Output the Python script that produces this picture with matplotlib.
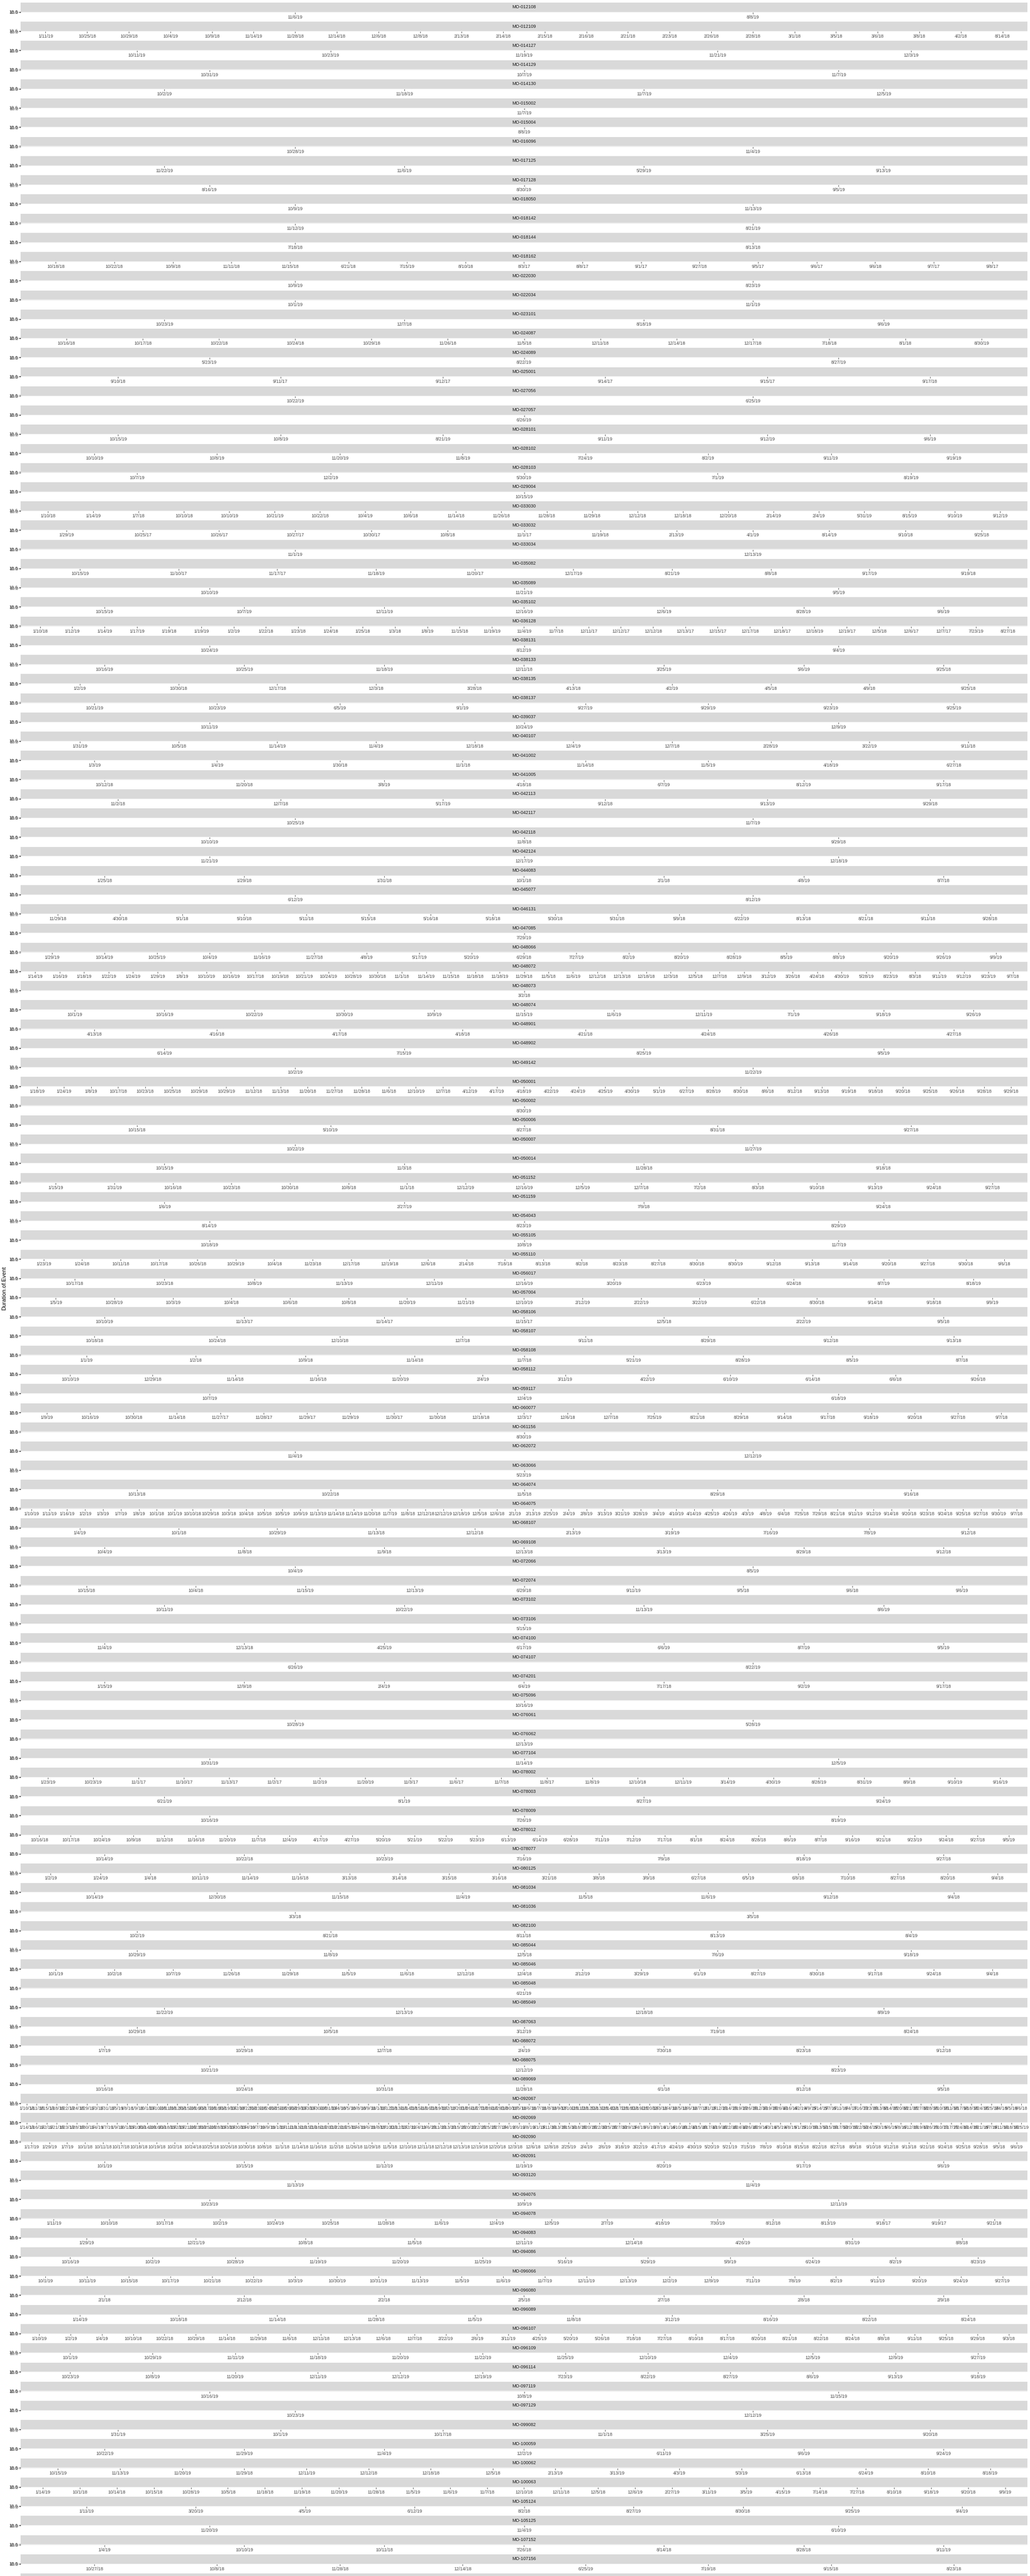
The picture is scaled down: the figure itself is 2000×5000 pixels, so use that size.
import matplotlib
matplotlib.use("Agg")
import matplotlib.pyplot as plt

plt.rcParams['font.family'] = ['Liberation Sans', 'DejaVu Sans']

# facet ids (MO-xxxxxx), one per panel, top to bottom
facet_ids = [
    "012108", "012109", "014127", "014129", "014130", "015002", "015004", "016096",
    "017125", "017128", "018050", "018142", "018144", "018162", "022030", "022034",
    "023101", "024087", "024089", "025001", "027056", "027057", "028101", "028102",
    "028103", "029004", "033030", "033032", "033034", "035082", "035089", "035102",
    "036128", "038131", "038133", "038135", "038137", "039037", "040107", "041002",
    "041005", "042113", "042117", "042118", "042124", "044083", "045077", "046131",
    "047085", "048066", "048072", "048073", "048074", "048901", "048902", "049142",
    "050001", "050002", "050006", "050007", "050014", "051152", "051159", "054043",
    "055105", "055110", "056017", "057004", "058106", "058107", "058108", "058112",
    "059117", "060077", "061156", "062072", "063066", "064074", "064075", "068107",
    "069108", "072066", "072074", "073102", "073106", "074100", "074107", "074201",
    "075096", "076061", "076062", "077104", "078002", "078003", "078009", "078012",
    "078077", "080125", "081034", "081036", "082100", "085044", "085046", "085048",
    "085049", "087063", "088072", "088075", "089069", "092067", "092069", "092090",
    "092091", "093120", "094076", "094078", "094083", "094086", "096066", "096080",
    "096089", "096107", "096109", "096114", "097119", "097129", "099082", "100059",
    "100062", "100063", "105124", "105125", "107152", "107156", "107158",
]

# x categories (event dates) of each panel, same order as facet_ids
event_dates = [
    "11/6/19 8/8/19",
    "1/11/19 10/25/18 10/29/18 10/4/19 10/9/18 11/14/19 11/28/18 12/14/18 12/6/18 12/8/18 2/13/18 2/14/18 2/15/18 2/16/18 2/21/18 2/23/18 2/26/18 2/28/18 3/1/18 3/5/18 3/6/18 3/8/18 4/2/18 8/14/18",
    "10/11/19 10/23/19 11/19/19 11/21/19 12/3/19",
    "10/31/19 10/7/19 11/7/19",
    "10/2/19 11/18/19 11/7/19 12/5/19",
    "11/7/19",
    "8/8/19",
    "10/28/19 11/4/19",
    "11/22/19 11/6/19 5/29/19 9/13/19",
    "8/16/19 8/30/19 9/5/19",
    "10/9/19 11/13/19",
    "11/12/19 8/21/19",
    "7/18/18 8/13/18",
    "10/18/18 10/22/18 10/9/18 11/11/18 11/15/18 6/21/18 7/15/19 8/10/18 8/3/17 8/8/17 9/1/17 9/27/18 9/5/17 9/6/17 9/6/18 9/7/17 9/8/17",
    "10/9/19 8/23/19",
    "10/1/19 11/1/19",
    "10/23/19 12/7/18 8/18/19 9/6/19",
    "10/16/18 10/17/18 10/22/18 10/24/18 10/29/18 11/26/18 11/5/18 12/11/18 12/14/18 12/17/18 7/18/18 8/1/18 8/30/19",
    "5/23/19 8/22/19 8/27/19",
    "9/10/18 9/11/17 9/12/17 9/14/17 9/15/17 9/17/18",
    "10/22/19 6/25/19",
    "6/26/19",
    "10/15/19 10/8/19 8/21/19 9/11/19 9/12/19 9/6/19",
    "10/10/19 10/8/19 11/20/19 11/8/19 7/24/19 8/2/19 9/11/19 9/19/19",
    "10/7/19 12/2/19 5/30/19 7/1/19 8/19/19",
    "10/15/19",
    "1/10/18 1/14/19 1/7/18 10/10/18 10/10/19 10/21/19 10/22/18 10/4/19 10/6/18 11/14/18 11/26/18 11/28/18 11/29/18 12/12/18 12/18/18 12/20/18 2/14/19 2/4/19 5/31/19 8/15/19 9/10/19 9/12/19",
    "1/29/19 10/25/17 10/26/17 10/27/17 10/30/17 10/8/18 11/1/17 11/19/18 2/13/19 4/1/19 8/14/19 9/10/18 9/25/18",
    "11/1/19 12/13/19",
    "10/15/19 11/10/17 11/17/17 11/18/19 11/20/17 12/17/19 8/21/19 8/8/18 9/17/19 9/19/18",
    "10/10/19 11/21/19 9/5/19",
    "10/15/19 10/7/19 12/11/19 12/16/19 12/6/19 8/28/19 9/6/19",
    "1/10/18 1/12/19 1/14/19 1/17/19 1/19/18 1/19/19 1/2/19 1/22/18 1/23/18 1/24/18 1/25/18 1/3/18 1/8/19 11/15/18 11/19/19 11/4/19 11/7/18 12/11/17 12/12/17 12/12/18 12/13/17 12/15/17 12/17/18 12/18/17 12/18/19 12/19/17 12/5/18 12/6/17 12/7/17 7/23/19 8/27/18",
    "10/24/19 8/12/19 9/4/19",
    "10/16/19 10/25/19 11/18/19 12/11/18 3/25/19 5/6/19 9/25/18",
    "1/2/19 10/30/18 12/17/18 12/3/18 3/28/18 4/13/18 4/2/19 4/5/18 4/9/18 9/25/18",
    "10/21/19 10/23/19 6/5/19 9/1/19 9/27/19 9/29/19 9/23/19 9/25/19",
    "10/11/19 10/24/19 12/9/19",
    "1/31/19 10/5/18 11/14/19 11/4/19 12/18/18 12/4/19 12/7/18 2/28/19 3/22/19 9/11/18",
    "1/3/19 1/4/19 1/30/18 11/1/18 11/14/18 11/5/19 4/18/19 6/27/18",
    "10/12/18 11/20/18 3/8/19 4/18/18 6/7/19 8/12/19 9/17/18",
    "11/2/18 12/7/18 5/17/19 9/12/18 9/13/19 9/29/18",
    "10/25/19 11/7/19",
    "10/10/19 11/8/18 9/29/18",
    "11/21/19 12/17/19 12/18/19",
    "1/25/18 1/29/18 1/31/18 10/1/18 2/1/18 4/8/19 8/7/18",
    "6/12/19 8/12/19",
    "11/29/18 4/30/18 5/1/18 5/10/18 5/11/18 5/15/18 5/16/18 5/18/18 5/30/18 5/31/18 5/9/18 6/22/19 8/13/18 8/21/18 9/11/18 9/28/18",
    "7/29/19",
    "1/29/19 10/14/19 10/25/19 10/4/19 11/16/19 11/27/18 4/8/19 5/17/19 5/20/19 6/29/18 7/27/19 8/2/19 8/20/19 8/28/19 8/5/19 8/8/19 9/20/19 9/26/19 9/9/19",
    "1/14/19 1/16/19 1/18/19 1/22/19 1/24/19 1/29/19 1/8/19 10/10/19 10/16/19 10/17/18 10/19/18 10/21/19 10/24/19 10/28/19 10/30/18 11/1/18 11/14/19 11/15/18 11/18/18 11/18/19 11/29/18 11/5/18 11/6/19 12/12/18 12/13/18 12/18/18 12/3/18 12/5/18 12/7/18 12/9/18 3/12/19 3/26/18 4/24/18 4/30/19 5/28/19 8/23/19 8/3/18 9/11/19 9/12/19 9/23/19 9/7/18",
    "3/2/18",
    "10/1/19 10/16/19 10/22/19 10/30/19 10/9/19 11/15/19 11/6/19 12/11/19 7/1/19 9/18/19 9/26/19",
    "4/13/18 4/16/18 4/17/18 4/18/18 4/21/18 4/24/18 4/26/18 4/27/18",
    "6/14/19 7/15/19 8/25/19 9/5/19",
    "10/2/19 11/22/19",
    "1/18/19 1/24/19 1/8/19 10/17/18 10/23/18 10/25/18 10/29/18 10/29/19 11/12/18 11/13/18 11/20/18 11/27/18 11/28/18 11/6/18 12/10/19 12/7/18 4/12/19 4/17/19 4/18/19 4/22/19 4/24/19 4/25/19 4/30/19 5/1/19 6/27/19 8/28/19 8/30/18 8/6/18 8/12/18 9/13/18 9/19/18 9/18/18 9/20/18 9/25/18 9/26/18 9/28/18 9/29/18",
    "8/30/19",
    "10/15/18 5/10/19 8/27/18 8/31/18 9/27/18",
    "10/22/19 11/27/19",
    "10/15/19 11/3/18 11/28/18 9/18/18",
    "1/15/19 1/31/19 10/16/18 10/23/18 10/30/18 10/8/18 11/1/18 12/12/19 12/16/19 12/5/19 12/7/18 7/2/18 8/3/18 9/10/18 9/13/19 9/24/18 9/27/18",
    "1/6/19 2/27/19 7/9/18 9/24/18",
    "8/14/19 8/23/19 8/29/19",
    "10/18/19 10/8/19 11/7/19",
    "1/23/19 1/24/18 10/11/18 10/17/18 10/26/18 10/29/19 10/4/18 11/23/18 12/17/18 12/19/18 12/6/18 2/14/18 7/18/18 8/13/18 8/2/18 8/23/18 8/27/18 8/30/18 8/30/19 9/12/18 9/13/18 9/14/18 9/20/18 9/27/18 9/30/18 9/6/18",
    "10/17/18 10/23/18 10/8/19 11/13/19 12/11/19 12/16/19 3/20/19 6/23/19 6/24/18 8/7/19 8/18/19",
    "1/5/19 10/28/19 10/3/19 10/4/18 10/6/18 10/8/18 11/20/19 11/21/19 12/10/19 2/12/19 2/22/19 3/22/19 6/22/18 8/30/18 9/14/18 9/18/18 9/9/19",
    "10/10/19 11/13/17 11/14/17 11/15/17 12/5/18 2/22/19 9/5/18",
    "10/18/18 10/24/18 12/10/18 12/7/18 9/11/18 8/29/18 9/12/18 9/13/18",
    "1/1/19 1/2/18 10/9/18 11/14/18 11/7/18 5/21/19 8/28/19 8/5/19 8/7/18",
    "10/10/19 12/29/18 11/14/18 11/16/18 11/20/19 2/4/19 3/11/19 4/22/19 6/10/19 6/14/18 6/6/18 9/26/18",
    "10/7/19 12/4/19 6/18/19",
    "1/9/19 10/16/19 10/30/18 11/14/18 11/27/17 11/28/17 11/29/17 11/29/19 11/30/17 11/30/18 12/18/18 12/3/17 12/6/18 12/7/18 7/25/19 8/21/18 8/29/18 9/14/18 9/17/18 9/18/19 9/20/18 9/27/18 9/7/18",
    "8/30/19",
    "11/4/19 12/12/19",
    "5/23/19",
    "10/13/18 10/22/18 11/5/18 8/29/18 9/16/18",
    "1/10/19 1/11/19 1/16/19 1/2/19 1/3/19 1/7/19 1/8/19 10/1/18 10/1/19 10/10/18 10/29/18 10/3/18 10/4/18 10/5/18 10/5/19 10/9/19 11/13/19 11/14/18 11/14/19 11/20/18 11/7/19 11/8/18 12/12/18 12/12/19 12/18/19 12/5/18 12/6/18 2/1/19 2/13/19 2/25/19 2/4/19 2/8/19 3/13/19 3/21/19 3/28/19 3/4/19 4/10/19 4/14/19 4/25/19 4/26/19 4/3/19 4/8/19 6/4/18 7/25/18 7/29/18 8/21/18 9/11/19 9/12/19 9/14/18 9/20/18 9/23/18 9/24/18 9/25/18 9/27/18 9/30/19 9/7/18",
    "1/4/19 10/1/18 10/29/19 11/13/18 12/12/18 2/13/19 3/19/19 7/16/19 7/8/19 9/12/18",
    "10/4/19 11/8/18 11/9/18 12/13/18 3/13/19 8/29/18 9/12/18",
    "10/4/19 8/5/19",
    "10/15/18 10/4/18 11/15/19 12/13/19 6/29/18 9/11/19 9/5/18 9/6/18 9/6/19",
    "10/11/19 10/22/19 11/13/19 8/6/19",
    "5/15/19",
    "11/4/19 12/13/18 4/25/19 6/17/19 6/6/19 8/7/19 9/5/19",
    "6/26/19 8/22/19",
    "1/15/19 12/9/18 2/4/19 6/4/19 7/17/18 9/2/19 9/17/18",
    "10/16/19",
    "10/28/19 5/28/19",
    "12/13/19",
    "10/31/19 11/14/19 12/5/19",
    "1/23/19 10/23/19 11/1/17 11/10/17 11/13/17 11/2/17 11/2/19 11/20/19 11/3/17 11/6/17 11/7/18 11/8/17 11/8/19 12/10/18 12/11/19 3/14/19 4/30/19 8/28/19 8/31/19 8/9/18 9/10/19 9/16/19",
    "6/21/19 8/1/19 8/27/19 9/24/19",
    "10/16/19 7/26/19 8/19/19",
    "10/16/18 10/17/18 10/24/19 10/9/18 11/12/18 11/16/18 11/20/19 11/7/18 12/4/19 4/17/19 4/27/19 5/20/19 5/21/19 5/22/19 5/23/19 6/13/19 6/14/19 6/28/19 7/11/19 7/12/19 7/17/18 8/1/18 8/24/18 8/28/18 8/6/19 8/7/18 9/16/19 9/21/18 9/23/19 9/24/18 9/27/18 9/5/19",
    "10/14/19 10/22/18 10/23/19 7/16/19 7/9/18 8/18/19 9/27/18",
    "1/2/19 1/24/19 1/4/18 10/11/19 11/14/19 11/16/18 3/13/18 3/14/18 3/15/18 3/16/18 3/21/18 3/8/18 3/9/18 6/27/18 6/5/19 6/8/18 7/10/18 8/27/18 8/20/18 9/4/18",
    "10/14/19 12/30/18 11/15/18 11/4/19 11/5/18 11/6/19 9/12/18 9/4/18",
    "3/3/18 3/5/18",
    "10/2/19 8/21/18 8/11/18 8/13/19 8/4/19",
    "10/29/19 11/8/19 12/5/18 7/6/19 9/18/19",
    "10/1/19 10/2/18 10/7/19 11/26/18 11/29/18 11/5/19 11/6/18 12/12/18 12/4/18 2/12/19 3/29/19 6/1/19 8/27/19 8/30/18 9/17/18 9/24/18 9/4/18",
    "6/21/19",
    "11/22/19 12/13/19 12/18/18 8/9/19",
    "10/29/18 10/5/18 3/12/19 7/19/18 8/24/18",
    "1/7/19 10/29/18 12/7/18 2/4/19 7/30/18 8/23/18 9/12/18",
    "10/21/19 12/12/19 8/23/19",
    "10/16/18 10/24/18 10/31/18 11/28/18 6/1/18 8/12/18 9/5/18",
    "1/10/18 1/11/18 1/15/19 1/18/19 1/22/19 1/24/18 1/29/19 1/3/18 1/31/18 1/5/19 1/8/18 1/9/18 10/1/18 10/10/18 10/11/18 10/12/18 10/15/18 10/16/18 10/17/18 10/18/18 10/19/18 10/2/18 10/22/18 10/23/18 10/24/18 10/25/18 10/26/18 10/29/18 10/3/18 10/30/18 10/31/18 10/4/18 10/5/18 10/8/18 10/9/18 11/1/18 11/12/18 11/13/18 11/14/18 11/15/18 11/16/18 11/19/18 11/2/18 11/20/18 11/26/18 11/27/18 11/28/18 11/29/18 11/30/18 11/5/18 11/6/18 11/7/18 11/8/18 11/9/18 12/10/18 12/11/18 12/12/18 12/13/18 12/14/18 12/17/18 12/18/18 12/19/18 12/20/18 12/3/18 12/4/18 12/5/18 12/6/18 12/7/18 2/1/19 2/12/19 2/14/19 2/19/19 2/26/19 3/12/19 3/19/19 3/26/19 4/16/19 4/2/19 4/9/19 5/14/19 5/7/19 6/11/19 6/4/19 7/16/19 7/23/19 8/13/18 8/14/18 8/20/18 8/21/18 8/27/18 8/28/18 9/10/18 9/11/18 9/17/18 9/18/18 9/24/18 9/25/18 9/4/18 9/5/18 9/6/18",
    "1/14/19 1/16/19 1/2/19 1/21/19 1/23/19 1/28/19 1/30/19 1/4/19 1/7/19 1/9/19 10/1/19 10/10/19 10/14/19 10/16/19 10/18/19 10/2/19 10/21/19 10/23/19 10/25/19 10/28/19 10/3/19 10/30/19 10/4/19 10/7/19 10/9/19 11/1/19 11/11/19 11/13/19 11/15/19 11/18/19 11/20/19 11/22/19 11/25/19 11/4/19 11/6/19 11/8/19 12/10/19 12/12/19 12/2/19 12/4/19 12/6/19 2/11/19 2/13/19 2/15/19 2/20/19 2/22/19 2/25/19 2/27/19 2/4/19 2/6/19 2/8/19 3/1/19 3/11/19 3/13/19 3/15/19 3/18/19 3/20/19 3/22/19 3/25/19 3/27/19 3/29/19 3/4/19 3/6/19 3/8/19 4/1/19 4/10/19 4/12/19 4/15/19 4/17/19 4/19/19 4/22/19 4/24/19 4/26/19 4/29/19 4/3/19 4/5/19 4/8/19 5/1/19 5/10/19 5/13/19 5/15/19 5/17/19 5/20/19 5/22/19 5/24/19 5/3/19 5/6/19 5/8/19 6/12/19 6/19/19 6/26/19 7/10/19 7/17/19 7/24/19 8/14/19 8/21/19 8/7/19 9/11/19 9/18/19 9/25/19",
    "1/17/19 1/29/19 1/7/19 10/1/18 10/11/18 10/17/18 10/18/18 10/19/18 10/2/18 10/24/18 10/25/18 10/26/18 10/30/18 10/8/18 11/1/18 11/14/18 11/16/18 11/2/18 11/26/18 11/29/18 11/5/18 12/10/18 12/11/18 12/12/18 12/13/18 12/19/18 12/20/18 12/3/18 12/6/18 12/8/18 2/25/19 2/4/19 2/6/19 3/18/19 3/22/19 4/17/19 4/24/19 4/30/19 5/20/19 5/21/19 7/15/19 7/8/19 8/10/18 8/15/18 8/22/18 8/27/18 8/9/18 9/10/18 9/12/18 9/13/18 9/21/18 9/24/18 9/25/18 9/28/18 9/5/18 9/6/19",
    "10/1/19 10/15/19 11/12/19 11/19/19 8/20/19 9/17/19 9/6/19",
    "11/13/19 11/4/19",
    "10/23/19 10/9/19 12/11/19",
    "1/11/19 10/10/18 10/17/18 10/2/19 10/24/19 10/25/18 11/28/18 11/6/19 12/4/19 12/5/19 2/7/19 4/18/19 7/30/19 8/12/18 8/13/19 9/18/17 9/19/17 9/21/18",
    "1/29/19 12/21/19 10/8/18 11/5/18 12/11/19 12/14/18 4/26/19 8/31/19 8/8/18",
    "10/16/19 10/2/19 10/28/19 11/19/19 11/20/19 11/25/19 5/16/19 5/29/19 5/9/19 6/24/19 8/2/19 8/23/19",
    "10/1/19 10/11/19 10/15/18 10/17/19 10/21/18 10/22/19 10/3/19 10/30/19 10/31/19 11/13/19 11/5/19 11/6/19 11/7/19 12/11/19 12/13/19 12/2/19 12/9/19 7/11/19 7/8/19 8/2/19 9/11/19 9/20/19 9/24/19 9/27/19",
    "2/1/18 2/12/18 2/2/18 2/5/18 2/7/18 2/8/18 2/9/18",
    "1/14/19 10/18/18 11/14/18 11/28/18 11/5/19 11/8/18 3/12/19 8/16/19 8/22/18 8/24/18",
    "1/10/19 1/2/19 1/4/19 10/10/18 10/22/18 10/29/18 11/14/18 11/29/18 11/6/18 12/11/18 12/13/18 12/6/18 12/7/18 2/22/19 2/6/19 3/11/19 4/25/19 5/20/19 5/26/18 7/18/18 7/27/18 8/10/18 8/17/18 8/20/18 8/21/18 8/22/18 8/24/18 8/8/18 9/11/18 9/25/18 9/29/18 9/3/18",
    "10/1/19 10/29/19 11/11/19 11/18/19 11/20/19 11/22/19 11/25/19 12/10/19 12/4/19 12/5/19 12/9/19 9/27/19",
    "10/23/19 10/8/19 11/20/19 12/11/19 12/12/19 12/19/19 7/23/19 8/22/19 8/27/19 8/6/19 9/13/19 9/18/19",
    "10/16/19 10/8/19 11/15/19",
    "10/23/19 12/12/19",
    "1/31/19 10/1/19 10/17/18 11/1/18 3/25/19 9/20/18",
    "10/22/19 11/29/19 11/4/19 12/2/19 6/11/19 9/6/19 9/24/19",
    "10/15/19 11/13/19 11/20/19 11/29/18 12/11/19 12/12/18 12/18/18 12/5/18 2/13/19 3/13/19 4/3/19 5/3/19 6/13/18 6/24/19 8/10/18 8/18/19",
    "1/14/19 10/1/18 10/14/18 10/15/18 10/28/19 10/5/18 11/18/18 11/19/18 11/20/19 11/28/18 11/5/19 11/6/19 11/7/18 12/10/18 12/11/18 12/5/18 12/6/19 2/27/19 3/11/19 3/5/19 4/15/19 7/14/18 7/27/18 8/10/18 9/18/19 9/20/18 9/9/19",
    "1/11/19 3/20/19 4/5/19 6/12/19 8/2/18 8/27/19 8/30/18 9/25/19 9/4/19",
    "11/20/19 11/4/19 6/10/19",
    "1/4/19 10/10/19 10/11/18 7/26/18 8/14/18 8/28/18 9/11/19",
    "10/27/18 10/8/18 11/28/18 12/14/18 6/25/19 7/19/18 9/15/18 8/23/18",
    "10/3/19 11/4/19 12/1/19",
]

y_ticks = [10.0, 18.6]
y_tick_labels = ["10.0", "18.6"]
y_title = "Duration.of.Event"

W, H = 2000, 5000
fig = plt.figure(figsize=(W / 100, H / 100), dpi=100)

left, width = 40, 1955          # panel left edge and width in px
top0, step = 5, 37.24           # first strip top, distance between facets
strip_h, panel_h = 17.7, 1.2    # panels are almost flat

for k, (fid, ds) in enumerate(zip(facet_ids, event_dates)):
    labels = ds.split()
    n = len(labels)
    y_strip = top0 + k * step
    y_panel = y_strip + strip_h

    # strip with the facet name
    sax = fig.add_axes([left / W, 1 - y_panel / H, width / W, strip_h / H])
    sax.set_facecolor('#D9D9D9')
    sax.set_xticks([])
    sax.set_yticks([])
    for s in sax.spines.values():
        s.set_visible(False)
    sax.text(0.5, 0.5, 'MO-' + fid, ha='center', va='center', fontsize=6.3,
             color='#1A1A1A', transform=sax.transAxes)

    # panel
    ax = fig.add_axes([left / W, 1 - (y_panel + panel_h) / H, width / W, panel_h / H])
    ax.set_facecolor('#EBEBEB')
    for s in ax.spines.values():
        s.set_visible(False)
    ax.set_xlim(-0.6, n - 0.4)
    ax.set_ylim(min(y_ticks), max(y_ticks))
    ax.set_xticks(range(n))
    ax.set_xticklabels(labels)
    ax.set_yticks(y_ticks)
    ax.set_yticklabels(y_tick_labels)
    ax.tick_params(axis='both', length=2.0, width=0.6, color='#333333',
                   labelsize=6.3, labelcolor='#4D4D4D', pad=1.6)

fig.text(3 / W, 0.5, y_title, rotation=90, ha='left', va='center',
         fontsize=7.9, color='black')

fig.savefig('out.png', dpi=100)
